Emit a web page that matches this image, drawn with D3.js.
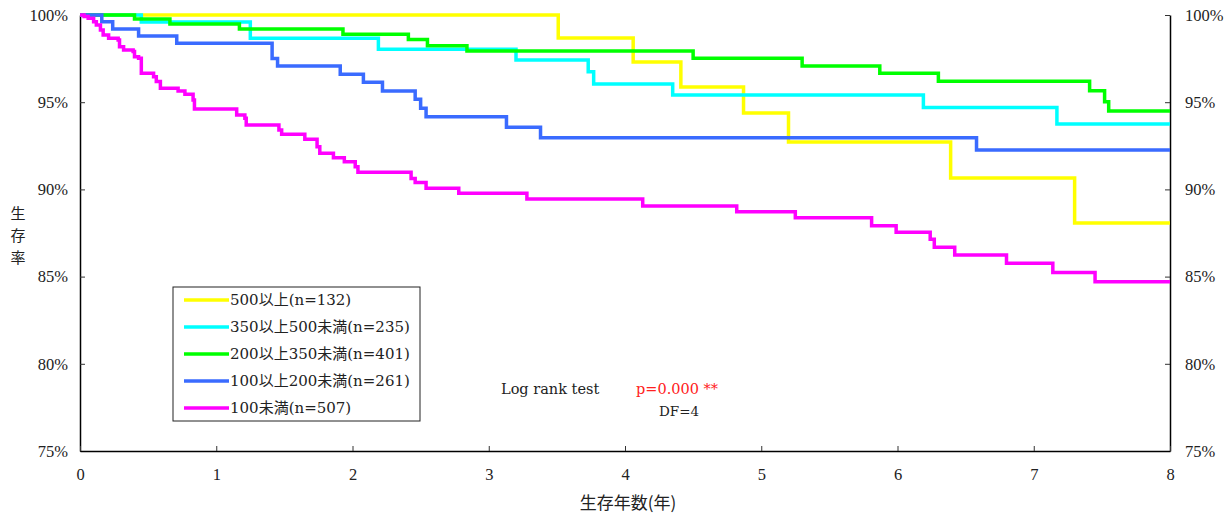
<!DOCTYPE html>
<html><head><meta charset="utf-8">
<script src="https://cdn.jsdelivr.net/npm/d3@7"></script>
<style>
body{margin:0;background:#fff;}
svg text{font-family:"Liberation Serif","Noto Sans CJK JP",serif;fill:#222;}
</style></head>
<body><svg id="c" width="1227" height="515"></svg>
<script>
const seriesNames = ["500以上(n=132)","350以上500未満(n=235)","200以上350未満(n=401)","100以上200未満(n=261)","100未満(n=507)"];
const seriesColors = ["#ffff00","#00ffff","#00ff00","#3a6bff","#ff00ff"];
// step times (years) and survival (%) after each step
const t500 = [0, 3.51, 4.06, 4.41, 4.87, 5.20, 6.39, 7.30];
const s500 = [100, 98.68, 97.30, 95.87, 94.38, 92.72, 90.65, 88.07];
const t350 = [0, 0.45, 1.25, 2.19, 3.20, 3.73, 3.77, 4.35, 6.19, 7.17];
const s350 = [100, 99.6, 98.66, 98.03, 97.42, 96.75, 96.04, 95.41, 94.69, 93.75];
const t200 = [0, 0.40, 0.66, 1.17, 1.93, 2.41, 2.55, 2.84, 4.50, 5.30, 5.87, 6.30, 7.41, 7.52, 7.55];
const s200 = [100, 99.77, 99.48, 99.2, 98.9, 98.6, 98.24, 97.94, 97.52, 97.08, 96.66, 96.2, 95.66, 95.03, 94.5];
const t100 = [0, 0.16, 0.24, 0.43, 0.71, 1.41, 1.45, 1.91, 2.08, 2.22, 2.46, 2.50, 2.54, 3.13, 3.38, 6.58];
const s100 = [100, 99.62, 99.2, 98.8, 98.38, 97.5, 97.08, 96.6, 96.14, 95.64, 95.17, 94.65, 94.17, 93.56, 92.96, 92.26];
const tU100 = [0, 0.03, 0.06, 0.10, 0.12, 0.15, 0.17, 0.21, 0.28, 0.29, 0.32, 0.39, 0.40, 0.43, 0.45, 0.54, 0.56, 0.59, 0.72, 0.77, 0.83, 0.84, 1.15, 1.21, 1.22, 1.46, 1.48, 1.65, 1.74, 1.76, 1.86, 1.94, 2.02, 2.04, 2.43, 2.46, 2.54, 2.78, 3.28, 4.13, 4.82, 5.25, 5.81, 5.99, 6.24, 6.27, 6.42, 6.80, 7.14, 7.45];
const sU100 = [100, 99.92, 99.81, 99.62, 99.43, 99.14, 98.85, 98.66, 98.57, 98.18, 97.99, 97.9, 97.61, 97.52, 96.66, 96.46, 96.18, 95.8, 95.64, 95.45, 95.13, 94.61, 94.27, 94.08, 93.69, 93.4, 93.16, 92.87, 92.45, 92.07, 91.82, 91.59, 91.3, 90.98, 90.63, 90.4, 90.06, 89.78, 89.45, 89.05, 88.72, 88.38, 87.92, 87.54, 87.14, 86.68, 86.24, 85.76, 85.24, 84.71];
const xTicks = [0,1,2,3,4,5,6,7,8];
const yTicks = [75,80,85,90,95,100];
const allT = [t500,t350,t200,t100,tU100];
const allS = [s500,s350,s200,s100,sU100];

const svg = d3.select("#c");
const L=80, R=1170, T=15, B=451, tMax=8;
const x = d3.scaleLinear().domain([0,tMax]).range([L,R]);
const y = d3.scaleLinear().domain([75,100]).range([B,T]);

// axes
const fmtP = d => d+"%";
const gl = svg.append("g").attr("transform",`translate(${L},0)`)
  .call(d3.axisLeft(y).tickValues(yTicks).tickFormat(fmtP).tickSizeInner(-5).tickSizeOuter(0).tickPadding(12));
const gr = svg.append("g").attr("transform",`translate(${R},0)`)
  .call(d3.axisRight(y).tickValues(yTicks).tickFormat(fmtP).tickSizeInner(-5).tickSizeOuter(0).tickPadding(15));
const gb = svg.append("g").attr("transform",`translate(0,${B})`)
  .call(d3.axisBottom(x).tickValues(xTicks).tickFormat(d3.format("d")).tickSizeInner(-5).tickSizeOuter(0).tickPadding(17));
[gl,gr,gb].forEach(g=>{
  g.selectAll("path.domain").attr("stroke","#000").attr("stroke-width",1.5);
  g.selectAll(".tick line").attr("stroke","#333");
  g.selectAll("text").attr("font-size",16.5).attr("font-family","Liberation Serif").attr("fill","#222");
});
gl.selectAll("text").attr("x",-12);
gb.selectAll("text").attr("font-size",16.5);

// curves
const line = d3.line().x(d=>x(d[0])).y(d=>y(d[1])).curve(d3.curveStepAfter);
allT.forEach((ts,i)=>{
  const pts = ts.map((t,j)=>[t,allS[i][j]]);
  pts.push([tMax, allS[i][allS[i].length-1]]);
  svg.append("path").datum(pts).attr("d",line).attr("fill","none")
    .attr("stroke",seriesColors[i]).attr("stroke-width",3.5);
});

// axis titles
const yt = "生存率".split("");
yt.forEach((c,i)=>svg.append("text").attr("x",18).attr("y",219+i*22).attr("text-anchor","middle")
  .attr("font-size",15).style("font-family","Noto Sans CJK JP").text(c));
svg.append("text").attr("x",628).attr("y",509).attr("text-anchor","middle")
  .attr("font-size",17).style("font-family","Noto Sans CJK JP").text("生存年数(年)");

// legend
const lg = svg.append("g");
lg.append("rect").attr("x",173).attr("y",287).attr("width",247).attr("height",134)
  .attr("fill","#fff").attr("stroke","#222").attr("stroke-width",1);
seriesNames.forEach((n,i)=>{
  const cy = 300+i*27;
  lg.append("line").attr("x1",184).attr("x2",229).attr("y1",cy).attr("y2",cy)
    .attr("stroke",seriesColors[i]).attr("stroke-width",3.5);
  lg.append("text").attr("x",230).attr("y",cy+5).attr("font-size",15)
    .style("font-family","'DejaVu Serif','Noto Sans CJK JP'").text(n);
});

// stats
svg.append("text").attr("x",501).attr("y",394).attr("font-size",14.5).style("font-family","DejaVu Serif").text("Log rank test");
svg.append("text").attr("x",636).attr("y",394).attr("font-size",14.5).style("font-family","DejaVu Serif").style("fill","#ff2020").text("p=0.000 **");
svg.append("text").attr("x",659).attr("y",416).attr("font-size",13.5).style("font-family","DejaVu Serif").text("DF=4");
</script></body></html>
